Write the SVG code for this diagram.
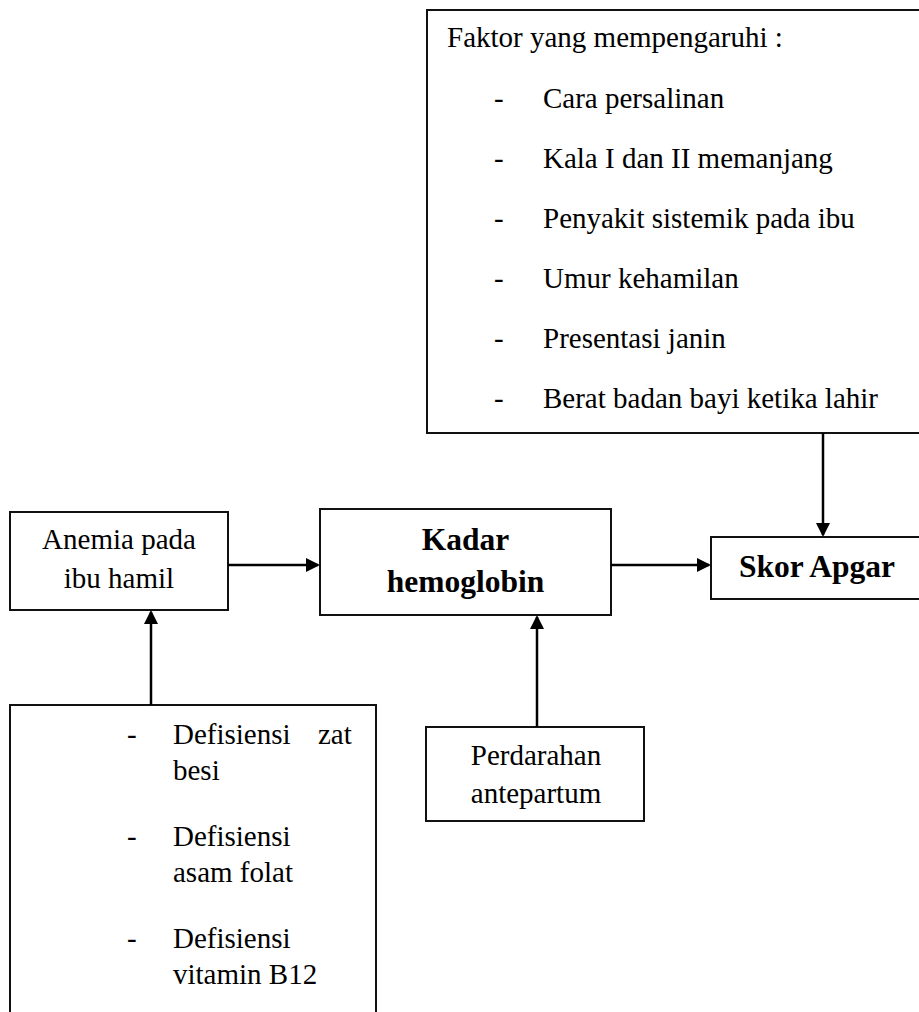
<svg xmlns="http://www.w3.org/2000/svg" width="919" height="1012" viewBox="0 0 919 1012">
<style>
.box{fill:#fff;stroke:#111;stroke-width:2}
.t{font-family:"Liberation Serif","Times New Roman",serif;font-size:29px;fill:#000}
.c{text-anchor:middle}
.b{font-weight:bold;font-size:31.5px}
.conn{stroke:#000;stroke-width:2.5;fill:none;marker-end:url(#ah)}
</style>
<defs>
<marker id="ah" markerUnits="userSpaceOnUse" markerWidth="16" markerHeight="16" refX="12" refY="7" orient="auto">
<path d="M0,0 L14,7 L0,14 Z" fill="#000"/>
</marker>
</defs>
<rect width="919" height="1012" fill="#fff"/>
<g id="faktor">
<rect class="box" x="427" y="10" width="520" height="423"/>
<text class="t" x="447" y="47">Faktor yang mempengaruhi :</text>
<text class="t" x="494" y="108">-</text><text class="t" x="543" y="108">Cara persalinan</text>
<text class="t" x="494" y="168">-</text><text class="t" x="543" y="168">Kala I dan II memanjang</text>
<text class="t" x="494" y="228">-</text><text class="t" x="543" y="228">Penyakit sistemik pada ibu</text>
<text class="t" x="494" y="288">-</text><text class="t" x="543" y="288">Umur kehamilan</text>
<text class="t" x="494" y="348">-</text><text class="t" x="543" y="348">Presentasi janin</text>
<text class="t" x="494" y="408">-</text><text class="t" x="543" y="408">Berat badan bayi ketika lahir</text>
</g>
<g id="anemia">
<rect class="box" x="10" y="512" width="218" height="98"/>
<text class="t c" x="119" y="549">Anemia pada</text>
<text class="t c" x="119" y="588">ibu hamil</text>
</g>
<g id="kadar">
<rect class="box" x="320" y="509" width="291" height="106"/>
<text class="t b c" x="465.5" y="550">Kadar</text>
<text class="t b c" x="465.5" y="592">hemoglobin</text>
</g>
<g id="skor">
<rect class="box" x="711" y="537" width="240" height="62"/>
<text class="t b c" x="817" y="577">Skor Apgar</text>
</g>
<g id="defisiensi">
<rect class="box" x="10" y="705" width="366" height="340"/>
<text class="t" x="127" y="744">-</text><text class="t" x="173" y="744">Defisiensi</text><text class="t" x="318" y="744">zat</text>
<text class="t" x="173" y="780">besi</text>
<text class="t" x="127" y="846">-</text><text class="t" x="173" y="846">Defisiensi</text>
<text class="t" x="173" y="882">asam folat</text>
<text class="t" x="127" y="948">-</text><text class="t" x="173" y="948">Defisiensi</text>
<text class="t" x="173" y="984">vitamin B12</text>
</g>
<g id="perdarahan">
<rect class="box" x="426" y="727" width="218" height="94"/>
<text class="t c" x="536" y="765">Perdarahan</text>
<text class="t c" x="536" y="803">antepartum</text>
</g>
<g id="connectors">
<line class="conn" x1="228" y1="565" x2="318" y2="565"/>
<line class="conn" x1="611" y1="565" x2="709" y2="565"/>
<line class="conn" x1="823" y1="433" x2="823" y2="535"/>
<line class="conn" x1="151" y1="705" x2="151" y2="612"/>
<line class="conn" x1="537" y1="727" x2="537" y2="617"/>
</g>
</svg>
